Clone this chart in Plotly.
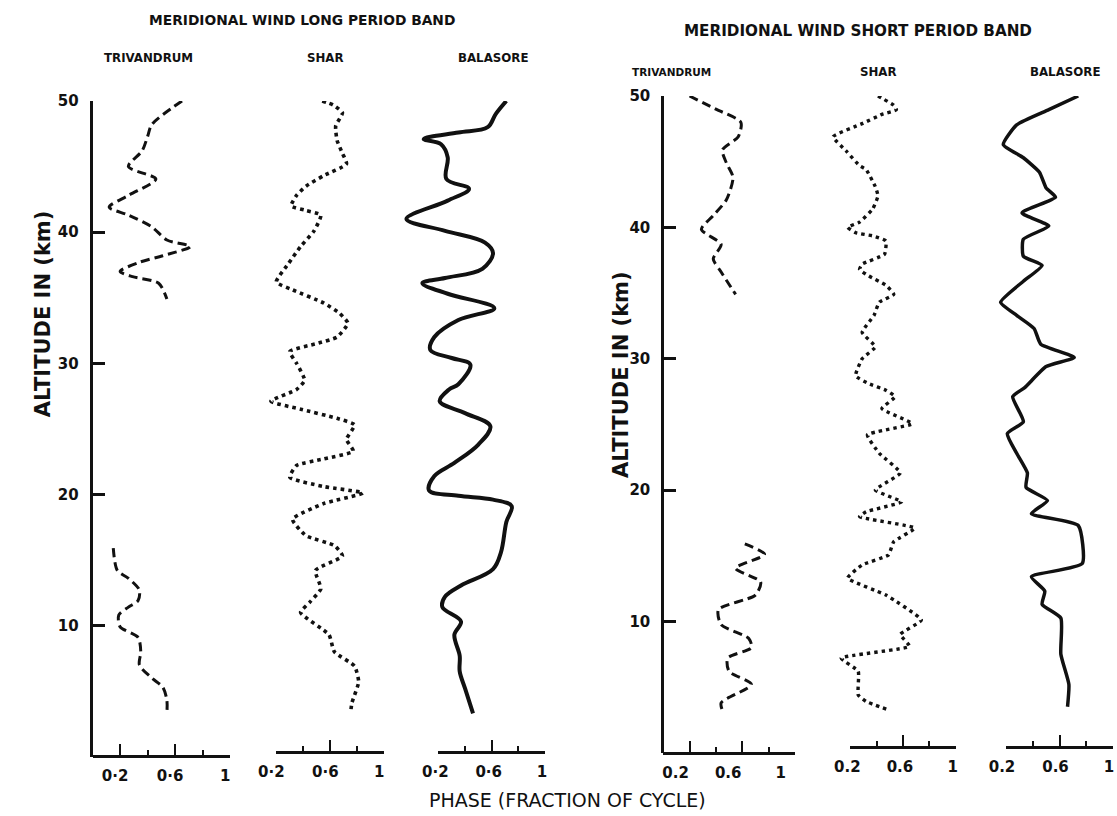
import plotly.graph_objects as go

W, H = 1117, 816

# ---------------- data (phase as fraction of cycle, altitude km) ----------------
L_TRIV_UP_ALT = [50.0, 48.2, 47.3, 46.2, 45.0, 44.05, 42.8, 41.9, 41.3, 40.4, 39.4, 38.9, 38.2, 37.7, 37.0, 36.6, 36.1, 34.9]
L_TRIV_UP_PH = [0.65, 0.43, 0.40, 0.36, 0.26, 0.46, 0.26, 0.12, 0.26, 0.43, 0.54, 0.71, 0.51, 0.34, 0.20, 0.29, 0.48, 0.54]
L_TRIV_LO_ALT = [15.9, 14.2, 13.6, 12.7, 11.9, 11.4, 10.8, 9.9, 9.1, 8.0, 7.0, 6.0, 5.3, 4.3, 3.3]
L_TRIV_LO_PH = [0.15, 0.18, 0.26, 0.34, 0.33, 0.26, 0.19, 0.20, 0.33, 0.35, 0.34, 0.43, 0.51, 0.54, 0.54]

L_SHAR_ALT = [50.0, 49.7, 49.1, 48.1, 47.0, 46.0, 45.2, 44.3, 43.5, 42.8,
              42.0, 41.65, 41.3, 40.1, 38.9, 37.6, 36.2, 35.6, 34.6, 33.8,
              33.05, 32.0, 31.5, 30.9, 30.0, 28.7, 28.0, 27.1, 26.5, 25.8,
              25.3, 24.2, 23.3, 22.7, 22.2, 21.3, 20.6, 20.1, 19.3, 18.1,
              16.85, 16.1, 15.3, 14.2, 12.8, 11.8, 11.0, 9.3, 8.0, 6.9,
              5.7, 4.1, 3.3]
L_SHAR_PH = [0.54, 0.62, 0.69, 0.64, 0.65, 0.69, 0.72, 0.55, 0.42, 0.35,
             0.31, 0.42, 0.53, 0.48, 0.38, 0.29, 0.20, 0.32, 0.55, 0.67,
             0.73, 0.65, 0.50, 0.30, 0.35, 0.41, 0.35, 0.16, 0.38, 0.65,
             0.78, 0.72, 0.77, 0.55, 0.35, 0.30, 0.55, 0.84, 0.55, 0.32,
             0.42, 0.63, 0.69, 0.49, 0.53, 0.45, 0.38, 0.59, 0.63, 0.78,
             0.81, 0.76, 0.75]

L_BAL_ALT = [50.0, 49.0, 48.0, 47.6, 47.1, 46.7, 45.7, 44.05, 43.3, 42.4,
             41.0, 40.1, 39.2, 38.4, 37.2, 36.5, 36.1, 35.3, 34.2, 33.3,
             32.0, 31.0, 30.4, 29.9, 28.4, 28.0, 27.1, 26.2, 25.2, 23.8,
             22.4, 21.4, 20.3, 19.9, 19.6, 19.1, 17.9, 15.6, 14.3, 13.05,
             12.2, 11.4, 10.3, 9.3, 7.7, 6.5, 5.2, 3.3]
L_BAL_PH = [0.71, 0.63, 0.57, 0.35, 0.09, 0.22, 0.27, 0.26, 0.43, 0.27,
            -0.04, 0.25, 0.55, 0.61, 0.53, 0.25, 0.08, 0.27, 0.62, 0.35,
            0.17, 0.14, 0.30, 0.44, 0.35, 0.28, 0.21, 0.40, 0.59, 0.50,
            0.32, 0.17, 0.13, 0.35, 0.61, 0.75, 0.71, 0.67, 0.61, 0.37,
            0.25, 0.23, 0.37, 0.32, 0.36, 0.36, 0.40, 0.46]

R_TRIV_UP_ALT = [50.0, 49.0, 48.0, 46.9, 45.9, 44.9, 43.8, 42.1, 40.9, 39.85, 38.7, 37.6, 36.6, 34.9]
R_TRIV_UP_PH = [0.20, 0.40, 0.59, 0.57, 0.45, 0.48, 0.53, 0.48, 0.38, 0.29, 0.44, 0.38, 0.44, 0.55]
R_TRIV_LO_ALT = [15.9, 15.1, 14.05, 13.0, 12.0, 10.9, 9.75, 8.7, 8.0, 7.2, 6.2, 5.2, 3.8, 3.2]
R_TRIV_LO_PH = [0.62, 0.77, 0.55, 0.74, 0.70, 0.42, 0.44, 0.65, 0.67, 0.49, 0.50, 0.67, 0.44, 0.45]

R_SHAR_ALT = [50.0, 49.3, 48.96, 48.6, 47.9, 46.9, 45.8, 44.7, 44.4, 43.1,
              42.4, 41.4, 40.4, 40.0, 39.6, 39.35, 38.97, 37.95, 37.2, 36.8,
              36.3, 35.6, 34.9, 34.3, 33.3, 32.0, 30.9, 30.0, 28.7, 28.1,
              27.6, 27.1, 26.2, 25.05, 24.2, 22.8, 21.3, 20.0, 19.1, 18.35,
              17.97, 17.1, 16.07, 15.06, 14.3, 13.3, 12.0, 10.1, 9.0, 8.1,
              7.2, 6.2, 4.4, 3.9, 3.3]
R_SHAR_PH = [0.41, 0.53, 0.55, 0.44, 0.29, 0.07, 0.17, 0.27, 0.32, 0.39,
             0.41, 0.37, 0.27, 0.18, 0.24, 0.37, 0.47, 0.46, 0.29, 0.27,
             0.34, 0.47, 0.53, 0.42, 0.38, 0.29, 0.39, 0.29, 0.24, 0.34,
             0.47, 0.54, 0.44, 0.67, 0.33, 0.42, 0.58, 0.39, 0.59, 0.32,
             0.27, 0.69, 0.53, 0.49, 0.29, 0.18, 0.47, 0.74, 0.58, 0.65,
             0.13, 0.26, 0.26, 0.32, 0.48]

R_BAL_ALT = [50.0, 48.96, 47.8, 46.3, 45.3, 44.2, 43.0, 42.3, 41.1, 40.1,
             39.1, 37.8, 37.1, 35.9, 34.3, 33.3, 32.3, 31.1, 30.1, 29.4,
             27.8, 27.1, 25.2, 24.3, 22.8, 21.3, 20.2, 19.2, 18.2, 17.3,
             14.4, 13.4, 12.3, 11.3, 10.25, 7.5, 5.2, 3.5]
R_BAL_PH = [0.74, 0.52, 0.28, 0.18, 0.33, 0.45, 0.50, 0.57, 0.32, 0.52,
            0.33, 0.33, 0.47, 0.33, 0.16, 0.28, 0.41, 0.46, 0.71, 0.50,
            0.34, 0.25, 0.33, 0.21, 0.28, 0.36, 0.35, 0.51, 0.39, 0.74,
            0.77, 0.39, 0.49, 0.47, 0.61, 0.61, 0.67, 0.66]

ALT_TICKS = [10, 20, 30, 40, 50]
PH_MAJOR = [0.2, 0.6, 1.0]
PH_MINOR = [0.4, 0.8]
TICKTEXT_L = ["0·2", "0·6", "1"]
TICKTEXT_R = ["0.2", "0.6", "1"]

TITLE_L = "MERIDIONAL WIND LONG PERIOD BAND"
TITLE_R = "MERIDIONAL WIND SHORT PERIOD BAND"
STATIONS = ["TRIVANDRUM", "SHAR", "BALASORE"]
Y_TITLE = "ALTITUDE IN (km)"
X_TITLE = "PHASE (FRACTION OF CYCLE)"

# ---------------- layout geometry (pixels) ----------------
INK = "#111111"
FONT = "DejaVu Sans"


def fx(p):
    return p / W


def fy(p):
    return 1 - p / H


# p0 = pixel of phase 0, k = pixels per unit phase, d0 = start of drawn scale,
# ay = pixel row of the phase scale
panels = [
    dict(p0=76.0, k=140.0, d0=0.0, ay=755, yid="y", text=TICKTEXT_L, shift=-5),
    dict(p0=235.5, k=137.5, d0=0.2, ay=751, yid="y", text=TICKTEXT_L, shift=-5),
    dict(p0=400.9, k=135.7, d0=0.2, ay=751, yid="y", text=TICKTEXT_L, shift=-3),
    dict(p0=657.0, k=134.0, d0=0.0, ay=752, yid="y2", text=TICKTEXT_R, shift=-14),
    dict(p0=820.7, k=134.0, d0=0.2, ay=746, yid="y2", text=TICKTEXT_R, shift=-3),
    dict(p0=978.75, k=136.25, d0=0.2, ay=746, yid="y2", text=TICKTEXT_R, shift=-4),
]

series = [
    [(L_TRIV_UP_PH, L_TRIV_UP_ALT), (L_TRIV_LO_PH, L_TRIV_LO_ALT)],
    [(L_SHAR_PH, L_SHAR_ALT)],
    [(L_BAL_PH, L_BAL_ALT)],
    [(R_TRIV_UP_PH, R_TRIV_UP_ALT), (R_TRIV_LO_PH, R_TRIV_LO_ALT)],
    [(R_SHAR_PH, R_SHAR_ALT)],
    [(R_BAL_PH, R_BAL_ALT)],
]
styles = [
    dict(width=3.0, dash="9px,5px", smoothing=0.8),
    dict(width=3.6, dash="3.6px,4px", smoothing=0.5),
    dict(width=4.0, dash="solid", smoothing=1.0),
    dict(width=3.0, dash="9px,5px", smoothing=0.7),
    dict(width=3.4, dash="3.4px,4px", smoothing=0.4),
    dict(width=3.5, dash="solid", smoothing=0.5),
]

fig = go.Figure()
layout = {}

for i, (pn, ser, st) in enumerate(zip(panels, series, styles)):
    data_id = "x" if i == 0 else f"x{i + 1}"
    disp_id = f"x{i + 7}"
    lo = -0.25
    hi = min(1.15, (W - 1 - pn["p0"]) / pn["k"])
    # data axis (invisible, wide enough to hold the curve)
    layout["xaxis" if i == 0 else f"xaxis{i + 1}"] = dict(
        domain=[fx(pn["p0"] + pn["k"] * lo), fx(pn["p0"] + pn["k"] * hi)],
        range=[lo, hi], visible=False, anchor=pn["yid"], fixedrange=True,
    )
    # display axis (the short bracketed phase scale)
    layout[f"xaxis{i + 7}"] = dict(
        domain=[fx(pn["p0"] + pn["k"] * pn["d0"]), fx(pn["p0"] + pn["k"] * 1.0)],
        range=[pn["d0"], 1.0], anchor="free", position=fy(pn["ay"]),
        showline=True, linewidth=3, linecolor=INK,
        showgrid=False, zeroline=False,
        tickmode="array", tickvals=PH_MAJOR, ticktext=pn["text"],
        ticks="inside", ticklen=11, tickwidth=2.4, tickcolor=INK,
        minor=dict(tickmode="array", tickvals=PH_MINOR, ticks="inside",
                   ticklen=5, tickwidth=2.2, tickcolor=INK, showgrid=False),
        ticklabelshift=pn["shift"], ticklabelstandoff=5,
        tickfont=dict(family=FONT, size=15, color=INK, weight="bold"),
        fixedrange=True,
    )
    for ph, alt in ser:
        fig.add_trace(go.Scatter(
            x=ph, y=alt, xaxis=data_id, yaxis=pn["yid"], mode="lines",
            line=dict(color=INK, width=st["width"], dash=st["dash"],
                      shape="spline", smoothing=st["smoothing"]),
            showlegend=False, hoverinfo="skip",
        ))
    # empty trace so the display axis is realised
    fig.add_trace(go.Scatter(x=[], y=[], xaxis=disp_id, yaxis=pn["yid"],
                             showlegend=False, hoverinfo="skip"))

yax_common = dict(
    range=[0, 50], anchor="free", showline=True, linewidth=3, linecolor=INK,
    showgrid=False, zeroline=False, tickmode="array", tickvals=ALT_TICKS,
    ticks="inside", ticklen=12, tickwidth=2.6, tickcolor=INK,
    ticklabelstandoff=8,
    tickfont=dict(family=FONT, size=15, color=INK, weight="bold"),
    fixedrange=True,
)
layout["yaxis"] = dict(yax_common, domain=[fy(756), fy(93)], position=fx(74))
layout["yaxis2"] = dict(yax_common, domain=[fy(752), fy(88)], position=fx(656))

ann = []


def text(t, x, y, size, bold=True, angle=0):
    ann.append(dict(
        text=t, x=fx(x), y=fy(y), xref="paper", yref="paper",
        xanchor="center", yanchor="middle", showarrow=False, textangle=angle,
        font=dict(family=FONT, size=size, color=INK, weight="bold" if bold else "normal"),
    ))


text(TITLE_L, 289, 11, 13.8)
text(TITLE_R, 855, 22, 15.2)
for name, x in zip(STATIONS, [133, 313, 484]):
    text(name, x, 50, 11.8)
for name, x, s in zip(STATIONS, [665, 876, 1066], [10.5, 11.8, 11.8]):
    text(name, x, 64, s)
text(Y_TITLE, 25, 308, 21, angle=-90)
text(Y_TITLE, 614, 370, 21, angle=-90)
text(X_TITLE, 560, 800, 19, bold=False)

fig.update_layout(
    width=W, height=H, margin=dict(l=0, r=0, t=0, b=0),
    paper_bgcolor="white", plot_bgcolor="rgba(0,0,0,0)",
    showlegend=False, annotations=ann, **layout,
)

fig.write_html("out.html")
